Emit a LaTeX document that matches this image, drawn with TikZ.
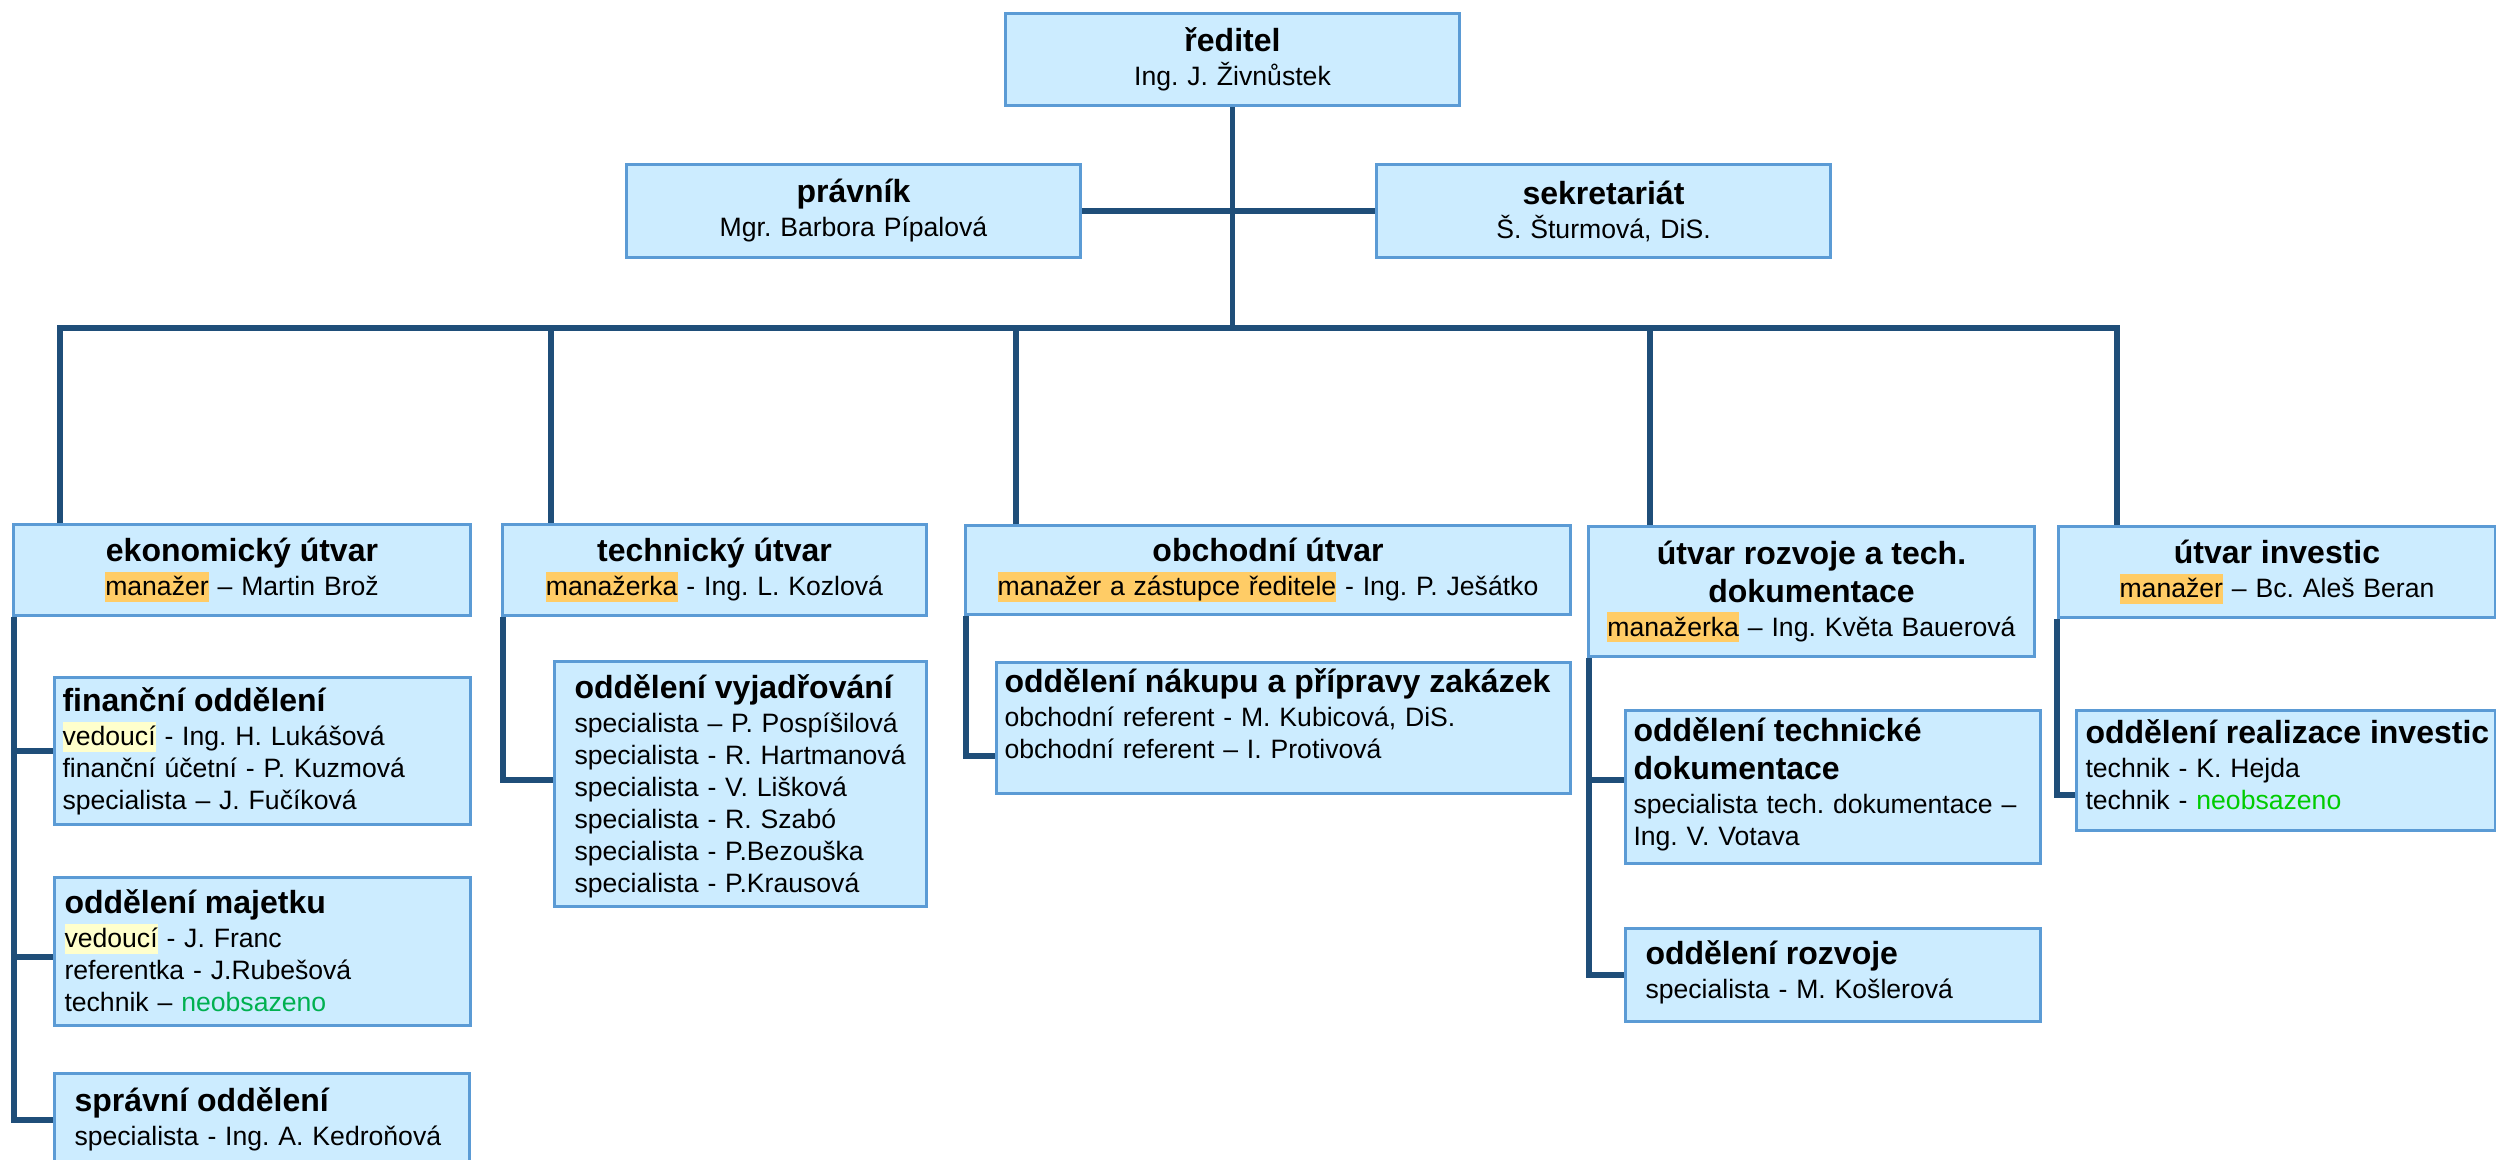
\documentclass[tikz,border=0pt]{standalone}
\usepackage{fontspec}
\setmainfont{Liberation Sans}
\frenchspacing

\definecolor{boxfill}{RGB}{204,236,255}
\definecolor{boxline}{RGB}{91,155,213}
\definecolor{linkblue}{RGB}{31,78,121}
\definecolor{mgrorange}{RGB}{255,204,102}
\definecolor{vedyellow}{RGB}{255,255,204}
\definecolor{vacantA}{RGB}{0,176,80}
\definecolor{vacantB}{RGB}{0,204,0}

\newcommand{\hilite}[2]{{\setlength{\fboxsep}{0pt}\colorbox{#1}{\rule[-3pt]{0pt}{15pt}#2}}}
\newcommand{\unittitle}[1]{{\bfseries\fontsize{16}{19}\selectfont #1\par}\vspace{1pt}}

\begin{document}
\begin{tikzpicture}[x=0.5pt, y=-0.5pt,
    every node/.style={font=\fontsize{13.3}{16}\selectfont},
    unit/.style={draw=boxline, line width=1.5pt, fill=boxfill, anchor=north west,
                 align=center, inner xsep=4pt, inner ysep=2pt},
    dept/.style={draw=boxline, line width=1.5pt, fill=boxfill, anchor=north west,
                 align=left, inner xsep=4pt, inner ysep=0pt},
    bus/.style={draw=linkblue, line width=3.3pt},
    stem/.style={draw=linkblue, line width=2.4pt},
    drop/.style={draw=linkblue, line width=2.8pt},
    link/.style={draw=linkblue, line width=3pt}]
  \clip (0,0) rectangle (2496,1160);

  % vedeni
  \node[unit, text width=219pt, minimum height=46pt] (reditel) at (1004,12)
    {\unittitle{ředitel}Ing. J. Živnůstek};
  \node[unit, text width=219pt, minimum height=46.5pt] (pravnik) at (625,163)
    {\unittitle{právník}Mgr. Barbora Pípalová};
  \node[unit, text width=219pt, minimum height=46.5pt] (sekretar) at (1375,163)
    {\unittitle{sekretariát}Š. Šturmová, DiS.};

  % utvary
  \node[unit, text width=220.5pt, minimum height=45.5pt] (ekon) at (12,523)
    {\unittitle{ekonomický útvar}\hilite{mgrorange}{manažer} – Martin Brož};
  \node[unit, text width=204pt, minimum height=45.5pt] (techn) at (501,523)
    {\unittitle{technický útvar}\hilite{mgrorange}{manažerka} - Ing. L. Kozlová};
  \node[unit, text width=294.5pt, minimum height=44.5pt] (obch) at (964,524)
    {\unittitle{obchodní útvar}\hilite{mgrorange}{manažer a zástupce ředitele} - Ing. P. Ješátko};
  \node[unit, text width=215pt, minimum height=65pt] (rozv) at (1587,525)
    {\unittitle{útvar rozvoje a tech.\\dokumentace}\hilite{mgrorange}{manažerka} – Ing. Květa Bauerová};
  \node[unit, text width=210.5pt, minimum height=45.5pt] (invest) at (2057,525)
    {\unittitle{útvar investic}\hilite{mgrorange}{manažer} – Bc. Aleš Beran};

  % oddeleni
  \node[dept, text width=200pt, text height=17pt, text depth=56.5pt] (fin) at (53,676)
    {\unittitle{finanční oddělení}\hilite{vedyellow}{vedoucí} - Ing. H. Lukášová\\
     finanční účetní - P. Kuzmová\\specialista – J. Fučíková};
  \node[dept, inner xsep=5pt, text width=198pt, text height=18pt, text depth=56pt] (maj) at (53,876)
    {\unittitle{oddělení majetku}\hilite{vedyellow}{vedoucí} - J. Franc\\
     referentka - J.Rubešová\\technik – \textcolor{vacantA}{neobsazeno}};
  \node[dept, inner xsep=10pt, text width=187.5pt, text height=19pt, text depth=27pt] (spr) at (53,1072)
    {\unittitle{správní oddělení}specialista - Ing. A. Kedroňová};
  \node[dept, inner xsep=10pt, text width=166pt, text height=18.5pt, text depth=104pt] (vyj) at (553,660)
    {\unittitle{oddělení vyjadřování}specialista – P. Pospíšilová\\
     specialista - R. Hartmanová\\specialista - V. Lišková\\specialista - R. Szabó\\
     specialista - P.Bezouška\\specialista - P.Krausová};
  \node[dept, text width=279pt, text height=15pt, text depth=50.5pt] (nakup) at (995,661)
    {\unittitle{oddělení nákupu a přípravy zakázek}obchodní referent - M. Kubicová, DiS.\\
     obchodní referent – I. Protivová};
  \node[dept, text width=199.5pt, text height=15.5pt, text depth=61pt] (tdok) at (1624,709)
    {\unittitle{oddělení technické\\dokumentace}specialista tech. dokumentace –\\Ing. V. Votava};
  \node[dept, inner xsep=10pt, text width=187.5pt, text height=18pt, text depth=28.5pt] (rozvodd) at (1624,927)
    {\unittitle{oddělení rozvoje}specialista - M. Košlerová};
  \node[dept, inner xsep=4.5pt, text width=200.5pt, text height=16.5pt, text depth=43.5pt] (realiz) at (2075,709)
    {\unittitle{\mbox{oddělení realizace investic}}technik - K. Hejda\\
     technik - \textcolor{vacantB}{neobsazeno}};

  % sbernice
  \coordinate (d1) at (60,328);
  \coordinate (d2) at (551,328);
  \coordinate (d3) at (1016,328);
  \coordinate (d4) at (1650,328);
  \coordinate (d5) at (2117,328);
  \draw[bus] (pravnik) -- (sekretar);
  \draw[stem] (reditel) -- (reditel |- d1);
  \draw[bus] ([xshift=-1.4pt]d1) -- ([xshift=1.4pt]d5);
  \draw[drop] (d1) -- (d1 |- ekon.north);
  \draw[drop] (d2) -- (d2 |- techn.north);
  \draw[drop] (d3) -- (d3 |- obch.north);
  \draw[drop] (d4) -- (d4 |- rozv.north);
  \draw[drop] (d5) -- (d5 |- invest.north);

  % podrizena oddeleni
  \draw[link] ([xshift=1pt]ekon.south west) |- (fin.west);
  \draw[link] ([xshift=1pt]ekon.south west) |- ([yshift=-2.5pt]maj.west);
  \draw[link] ([xshift=1pt]ekon.south west) |- (spr.west);
  \draw[link] ([xshift=1pt]techn.south west) |- ([yshift=2pt]vyj.west);
  \draw[link] ([xshift=1pt]obch.south west) |- ([yshift=-14pt]nakup.west);
  \draw[link] ([xshift=1pt]rozv.south west) |- ([yshift=3.5pt]tdok.west);
  \draw[link] ([xshift=1pt]rozv.south west) |- (rozvodd.west);
  \draw[link] (invest.south west) |- ([yshift=-12pt]realiz.west);
\end{tikzpicture}
\end{document}
